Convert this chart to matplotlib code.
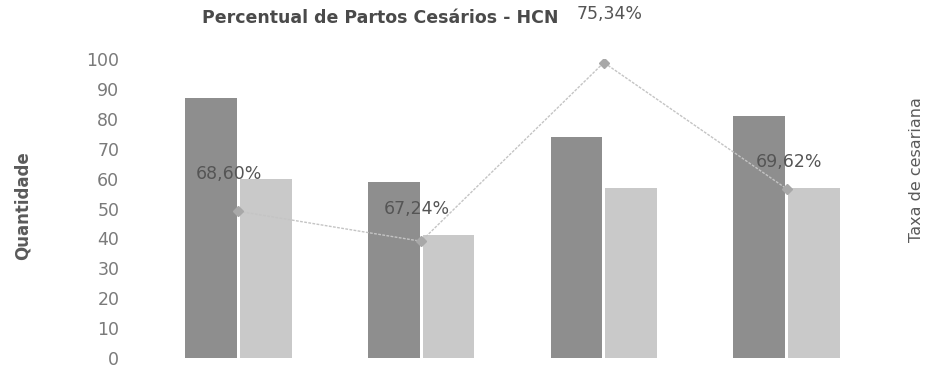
import matplotlib
matplotlib.use("Agg")
import matplotlib.pyplot as plt
import numpy as np

# values
categories = ["1", "2", "3", "4"]
partos_total = [87, 59, 74, 81]
partos_cesareos = [60, 41, 57, 57]
taxa_cesariana = [68.60, 67.24, 75.34, 69.62]
taxa_labels = ["68,60%", "67,24%", "75,34%", "69,62%"]
y_ticks = list(range(0, 101, 10))

# label offsets in pixels (placement only)
label_offsets = [(-9, 37), (-4, 32), (6, 49), (2, 27)]

plt.rcParams["font.family"] = ["DejaVu Sans"]

fig = plt.figure(figsize=(9.33, 3.69), dpi=100)
ax = fig.add_axes([0.1576, 0.0298, 0.7834, 0.8102])

x = np.arange(len(categories))
width = 0.284
ax.bar(x - width / 2 - 0.008, partos_total, width, color="#8e8e8e")
ax.bar(x + width / 2 + 0.008, partos_cesareos, width, color="#c9c9c9")
ax.set_xlim(-0.5, len(categories) - 0.5)
ax.set_ylim(0, 100)
ax.set_yticks(y_ticks)
ax.set_yticklabels([str(t) for t in y_ticks], fontsize=12.5, color="#7a7a7a")
ax.tick_params(axis="y", length=0, pad=20)
ax.set_xticks([])
for spine in ax.spines.values():
    spine.set_visible(False)
ax.set_ylabel("Quantidade", fontsize=12, fontweight="bold", color="#5a5a5a")
ax.yaxis.set_label_coords(-0.158, 0.51)

ax2 = ax.twinx()
ax2.plot(x, taxa_cesariana, color="#c4c4c4", linewidth=1.0, linestyle=(0, (2, 1)),
         marker="D", markersize=5, markerfacecolor="#a8a8a8", markeredgecolor="#a8a8a8")
ax2.set_ylim(61.95, 75.5)
ax2.set_yticks([])
for spine in ax2.spines.values():
    spine.set_visible(False)
ax2.set_ylabel("Taxa de cesariana", fontsize=11.5, color="#5a5a5a")
ax2.yaxis.set_label_coords(1.042, 0.63)

for xi, val, lab, off in zip(x, taxa_cesariana, taxa_labels, label_offsets):
    ax2.annotate(lab, (xi, val), xytext=off, textcoords="offset pixels",
                 ha="center", va="center", fontsize=12.5, color="#555555")

fig.text(0.408, 0.951, "Percentual de Partos Cesários - HCN", ha="center", va="center",
         fontsize=12.5, fontweight="bold", color="#4a4a4a")

fig.savefig("out.png", dpi=100)
